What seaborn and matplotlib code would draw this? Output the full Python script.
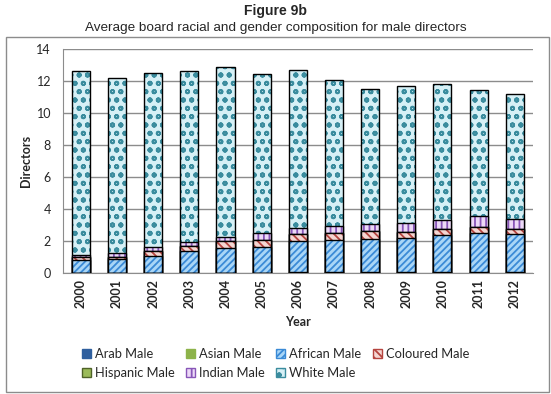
import numpy as np
import pandas as pd
import matplotlib
matplotlib.use("Agg")
import matplotlib.pyplot as plt
from matplotlib.patches import Patch, Rectangle
import seaborn as sns

years = [str(y) for y in range(2000, 2013)]
arab = [0.01, 0.01, 0.01, 0.01, 0.01, 0.01, 0.01, 0.01, 0.01, 0.01, 0.01, 0.01, 0.01]
asian = [0.02, 0.02, 0.02, 0.02, 0.02, 0.02, 0.03, 0.03, 0.06, 0.06, 0.06, 0.05, 0.05]
african = [0.79, 0.85, 1.04, 1.36, 1.54, 1.61, 1.98, 2.04, 2.07, 2.13, 2.32, 2.46, 2.40]
coloured = [0.16, 0.15, 0.29, 0.31, 0.42, 0.44, 0.44, 0.44, 0.46, 0.38, 0.38, 0.38, 0.31]
hispanic = [0.0, 0.0, 0.0, 0.0, 0.0, 0.0, 0.0, 0.0, 0.0, 0.0, 0.0, 0.0, 0.0]
indian = [0.15, 0.23, 0.28, 0.21, 0.28, 0.44, 0.37, 0.44, 0.49, 0.52, 0.57, 0.65, 0.63]
white = [11.47, 10.89, 10.83, 10.69, 10.58, 9.88, 9.83, 9.07, 8.43, 8.61, 8.44, 7.85, 7.75]

series = ["Arab Male", "Asian Male", "African Male", "Coloured Male",
          "Hispanic Male", "Indian Male", "White Male"]
values = [arab, asian, african, coloured, hispanic, indian, white]

styles = {
    "Arab Male": ("#2f5f9e", "#2f5f9e", ""),
    "Asian Male": ("#8db34a", "#8db34a", ""),
    "African Male": ("#a9d6f7", "#3a8ad6", "/////"),
    "Coloured Male": ("#f5d6d2", "#b5443f", "\\\\\\\\"),
    "Hispanic Male": ("#9bbb59", "#9bbb59", ""),
    "Indian Male": ("#ecd9f7", "#8856b8", "|||"),
    "White Male": ("#d6f0f6", "#3a8c9e", "oo"),
}

sns.set_style("white")
plt.rcParams["font.family"] = ["Lato", "DejaVu Sans"]
plt.rcParams["hatch.linewidth"] = 1.3

fig = plt.figure(figsize=(5.51, 3.94), dpi=100)
ax = fig.add_axes([0.114, 0.307, 0.853, 0.569])

cum = np.cumsum(np.array(values), axis=0)

# draw cumulative bars from the top series down so each covers the one below
for i in range(len(series) - 1, -1, -1):
    name = series[i]
    face, hcol, hatch = styles[name]
    df = pd.DataFrame({"year": years, "val": cum[i]})
    n0 = len(ax.patches)
    sns.barplot(data=df, x="year", y="val", color=face, width=0.5,
                linewidth=0, saturation=1, ax=ax, zorder=3)
    for p in ax.patches[n0:]:
        p.set_facecolor(face)
        p.set_edgecolor(hcol)
        p.set_hatch(hatch)
        p.set_linewidth(0)
    n1 = len(ax.patches)
    sns.barplot(data=df, x="year", y="val", color=face, width=0.5,
                linewidth=1, saturation=1, ax=ax, zorder=3)
    for p in ax.patches[n1:]:
        p.set_facecolor("none")
        p.set_edgecolor("black")
        p.set_linewidth(1.0)

ax.set_ylim(0, 14)
ax.set_yticks(range(0, 15, 2))
ax.set_xlim(-0.5, len(years) - 0.5)
ax.yaxis.grid(True, color="#8c8c8c", linewidth=1)
ax.set_axisbelow(True)
for s in ["top", "right"]:
    ax.spines[s].set_visible(False)
ax.spines["left"].set_color("#8c8c8c")
ax.spines["bottom"].set_color("#8c8c8c")
ax.set_xticks(np.arange(-0.5, len(years), 1), minor=True)
ax.tick_params(axis="x", which="major", length=0, labelsize=9, rotation=90, pad=4)
ax.tick_params(axis="x", which="minor", length=5, color="#8c8c8c", direction="out")
ax.tick_params(axis="y", length=5, color="#8c8c8c", direction="out", labelsize=9)
for t in ax.get_xticklabels():
    t.set_fontweight("bold")
ax.set_xlabel("Year", fontsize=9, fontweight="bold", labelpad=6)
ax.set_ylabel("Directors", fontsize=9, fontweight="bold", labelpad=3)

fig.text(0.5, 0.972, "Figure 9b", ha="center", va="center", fontsize=10,
         fontweight="bold", family=["Liberation Sans"])
fig.text(0.5, 0.93, "Average board racial and gender composition for male directors",
         ha="center", va="center", fontsize=9.7, family=["Liberation Sans"])
fig.patches.append(Rectangle((6 / 551, 2 / 394), 543 / 551, 355 / 394,
                             transform=fig.transFigure, fill=False,
                             edgecolor="#8c8c8c", linewidth=1))

order = ["Arab Male", "Hispanic Male", "Asian Male", "Indian Male",
         "African Male", "White Male", "Coloured Male"]
handles = []
for name in order:
    face, hcol, hatch = styles[name]
    if hatch:
        handles.append(Patch(facecolor=face, edgecolor=hcol, hatch=hatch, label=name))
    else:
        handles.append(Patch(facecolor=face, edgecolor=face if name != "Hispanic Male" else "#4f6228",
                             label=name))
leg = fig.legend(handles=handles, loc="center", ncol=4, frameon=False,
                 bbox_to_anchor=(0.5, 0.077), fontsize=9.3, handlelength=0.7,
                 handleheight=0.7, handletextpad=0.3, columnspacing=0.9,
                 labelspacing=0.5)

fig.savefig("out.png", dpi=100)
